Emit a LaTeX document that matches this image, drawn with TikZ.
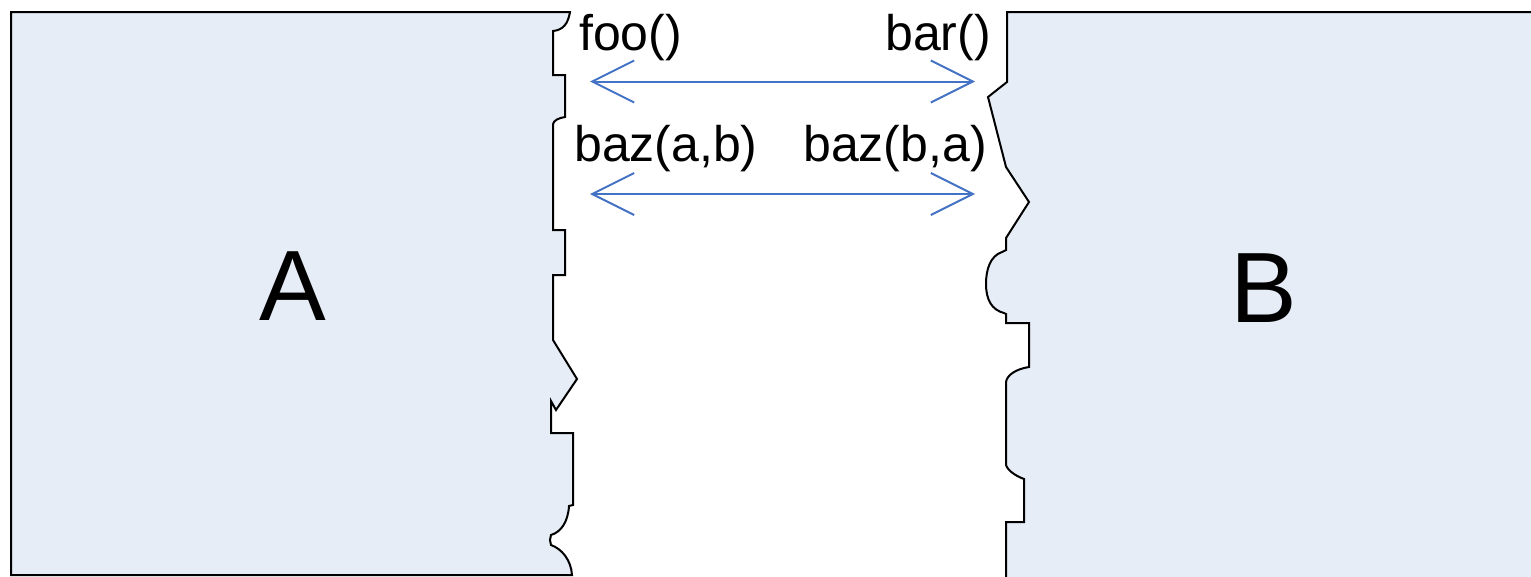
\documentclass[tikz,border=0pt]{standalone}
\usepackage{fontspec}
\setmainfont{Liberation Sans}
\usetikzlibrary{arrows.meta}
\definecolor{panelfill}{HTML}{E6EDF7}
\definecolor{linkblue}{HTML}{4472C4}
\tikzset{
  panel/.style={draw=black, line width=2pt, fill=panelfill, line join=miter},
  bigletter/.style={inner sep=0pt, font=\fontsize{100}{120}\selectfont},
  call/.style={inner sep=0pt, font=\fontsize{50}{60}\selectfont},
  link/.style={draw=linkblue, line width=2pt,
    {Straight Barb[length=42pt,width=42pt,line width=2pt]}-{Straight Barb[length=42pt,width=42pt,line width=2pt]}}
}
\begin{document}
\begin{tikzpicture}[x=1pt,y=-1pt]
  \useasboundingbox (0,0) rectangle (1531,576);
  \begin{scope}
    \clip (0,0) rectangle (1531,576);
    % left panel with its broken right edge
    \path[panel] (11,12) -- (570,12)
      .. controls (568,24) and (563,30) .. (553,31)
      -- (553,75) -- (565,75) -- (565,117)
      .. controls (559,118) and (554,120) .. (553,124)
      -- (553,230) -- (565,230) -- (565,275) -- (553,275)
      -- (553,340) -- (577,379) -- (556,410) -- (551,401)
      -- (551,433) -- (573,433) -- (573,505) -- (569,506)
      .. controls (568,522) and (561,532) .. (551,535)
      -- (550,540) -- (551,545)
      .. controls (562,549) and (571,560) .. (572,575)
      -- (11,575) -- cycle;
    % right panel with its broken left edge
    \path[panel] (1545,12) -- (1007,12) -- (1007,82) -- (988,97)
      -- (1006,167) -- (1029,202) -- (1006,238) -- (1006,250) -- (1002,252)
      .. controls (990,256) and (986,270) .. (986,284)
      .. controls (986,300) and (992,310) .. (1004,313)
      -- (1006,314) -- (1006,323) -- (1029,323) -- (1029,367)
      .. controls (1016,369) and (1007,375) .. (1006,382)
      -- (1006,465)
      .. controls (1008,471) and (1016,476) .. (1024,479)
      -- (1024,522) -- (1006,522) -- (1006,590) -- (1545,590) -- cycle;
  \end{scope}

  \node[bigletter] (A) at (293,286) {A};
  \node[bigletter] (B) at (1264,288) {B};

  \node[call, anchor=base west] (foo) at (579,50) {foo()};
  \node[call, anchor=base east] (bar) at (991,50) {bar()};
  \node[call, anchor=base west] (bazab) at (574,161) {baz(a,b)};
  \node[call, anchor=base east] (bazba) at (987,161) {baz(b,a)};

  \coordinate (l1) at (590,81.5);
  \coordinate (r1) at (975,81.5);
  \coordinate (l2) at (590,194);
  \coordinate (r2) at (975,194);
  \draw[link] (l1) -- (r1);
  \draw[link] (l2) -- (r2);
\end{tikzpicture}
\end{document}
